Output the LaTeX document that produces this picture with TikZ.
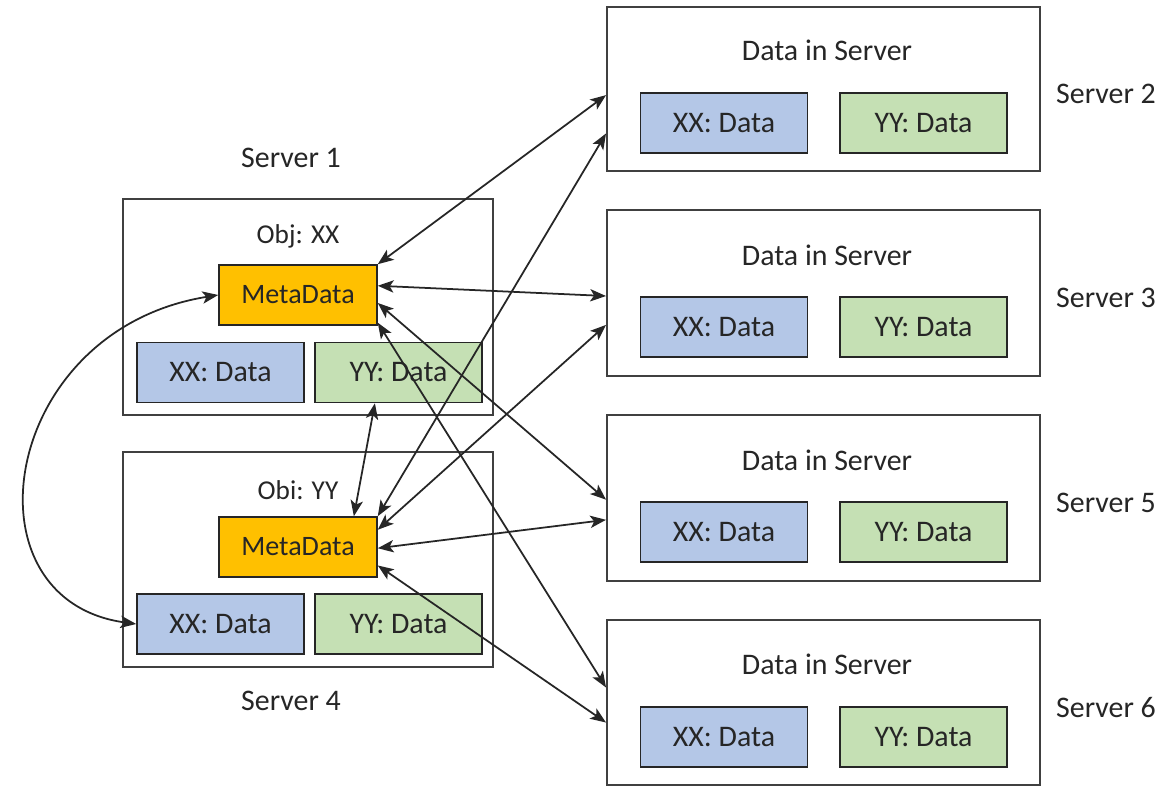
\documentclass[tikz,border=0pt]{standalone}
\usepackage{fontspec}
\setmainfont{Carlito}
\usetikzlibrary{arrows.meta,calc}
\newdimen\px
\px=0.02cm
\definecolor{metaorange}{HTML}{FFC000}
\definecolor{xxblue}{HTML}{B4C7E7}
\definecolor{yygreen}{HTML}{C5E0B4}
\definecolor{boxline}{HTML}{404040}
\definecolor{inkgray}{HTML}{262626}
\tikzset{
  server/.style={draw=boxline, line width=1.1pt, minimum width=#1\px, inner sep=0pt},
  cell/.style={draw=inkgray, line width=0.9pt, minimum width=#1\px, minimum height=60\px,
    inner sep=0pt, font=\fontsize{17}{20}\selectfont, text=inkgray},
  meta/.style={cell=158, fill=metaorange, font=\fontsize{16}{19}\selectfont},
  xxcell/.style={cell=167, fill=xxblue},
  yycell/.style={cell=167, fill=yygreen},
  label/.style={font=\fontsize{17}{20}\selectfont, text=inkgray, inner sep=0pt},
  objlabel/.style={font=\fontsize{15.5}{18}\selectfont, text=inkgray, inner sep=0pt},
  link/.style={{Stealth[length=9pt,width=7pt,inset=2.2pt]}-{Stealth[length=9pt,width=7pt,inset=2.2pt]},
    line width=1pt, black!85},
}
\begin{document}
\begin{tikzpicture}[x=\px,y=-\px]
\useasboundingbox (0,0) rectangle (1173,786);
\fill[white] (0,0) rectangle (1173,786);

% left servers
\node[server=370, minimum height=216\px] (s1) at (308,307) {};
\node[label] (s1name) at (291,158) {Server 1};
\node[objlabel] (s1obj) at (298,236) {Obj: XX};
\node[meta] (meta1) at (298,295) {MetaData};
\node[xxcell] (xx1) at (220.5,372.5) {XX: Data};
\node[yycell] (yy1) at (398.5,372.5) {YY: Data};

\node[server=370, minimum height=215\px] (s4) at (308,559.5) {};
\node[label] (s4name) at (291,701) {Server 4};
\node[objlabel] (s4obj) at (298,490) {Obi: YY};
\node[meta] (meta2) at (298,547) {MetaData};
\node[xxcell] (xx4) at (220.5,624) {XX: Data};
\node[yycell] (yy4) at (398.5,624) {YY: Data};

% right servers
\foreach \nm/\cy/\h/\ty/\cly/\lab in {s2/89/164/50/123/Server 2, s3/293/166/255/327/Server 3,
    s5/498/166/460/532/Server 5, s6/702.5/165/664/737/Server 6}{
  \node[server=433, minimum height=\h\px] (\nm) at (823.5,\cy) {};
  \node[label] (\nm title) at (827,\ty) {Data in Server};
  \node[xxcell] (\nm xx) at (724,\cly) {XX: Data};
  \node[yycell] (\nm yy) at (923.5,\cly) {YY: Data};
  \node[label] (\nm name) at (1106,\cy+5) {\lab};
}

% links from the metadata of Server 1
\draw[link] (meta1.north east) -- ($(s2.north west)!0.537!(s2.south west)$);
\draw[link] ($(meta1.north east)!0.35!(meta1.south east)$) -- ($(s3.north west)!0.518!(s3.south west)$);
\draw[link] ($(meta1.north east)!0.63!(meta1.south east)$) -- ($(s5.north west)!0.51!(s5.south west)$);
\draw[link] ($(meta1.north east)!0.95!(meta1.south east)$) -- ($(s6.north west)!0.41!(s6.south west)$);

% links from the metadata of Server 4
\draw[link] (meta2.north east) -- ($(s2.north west)!0.768!(s2.south west)$);
\draw[link] ($(meta2.north east)!0.22!(meta2.south east)$) -- ($(s3.north west)!0.69!(s3.south west)$);
\draw[link] ($(meta2.north east)!0.52!(meta2.south east)$) -- ($(s5.north west)!0.63!(s5.south west)$);
\draw[link] ($(meta2.north east)!0.8!(meta2.south east)$) -- ($(s6.north west)!0.62!(s6.south west)$);
\draw[link] ($(yy1.south west)!0.36!(yy1.south east)$) -- ($(meta2.north west)!0.85!(meta2.north east)$);

% curved link between the metadata and the XX data
\draw[link] (meta1.west) .. controls (0,330) and (-40,600) .. (xx4.west);
\end{tikzpicture}
\end{document}
